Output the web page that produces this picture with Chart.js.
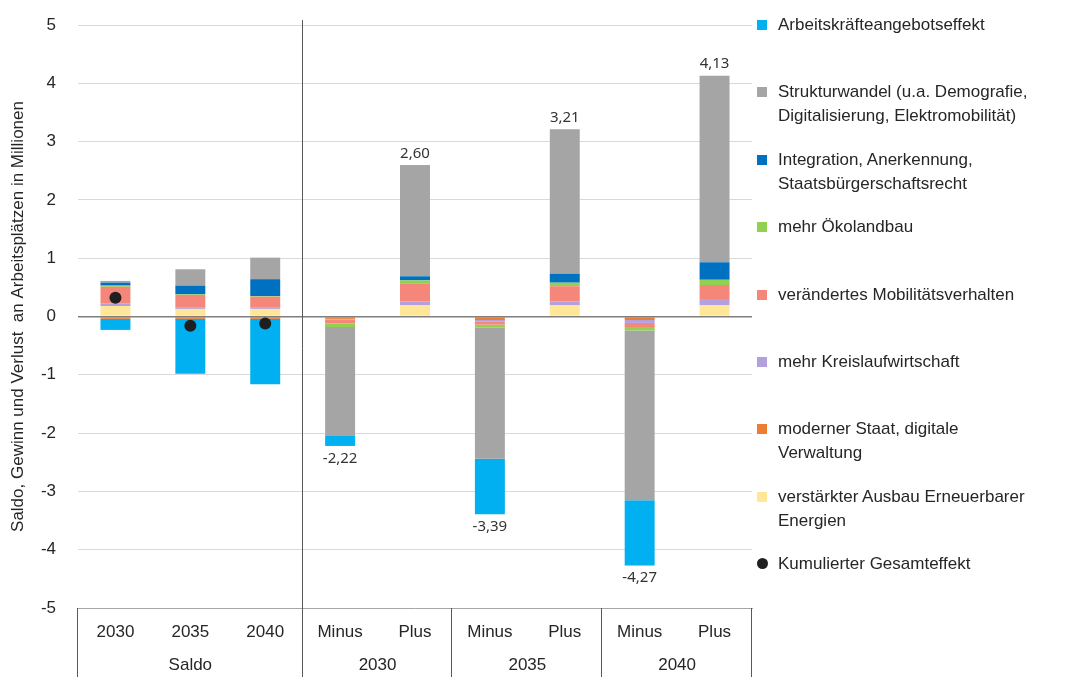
<!DOCTYPE html>
<html>
<head>
<meta charset="utf-8">
<script src="https://cdn.jsdelivr.net/npm/chart.js@4.4.1/dist/chart.umd.min.js"></script>
<style>
  body { margin: 0; background: #fff; }
  #wrap { position: relative; width: 1087px; height: 677px; }
  #legend { position: absolute; left: 757px; top: 13px; font: 17px "Liberation Sans", Arial, sans-serif; color: #262626; }
  .item { position: relative; padding-left: 21px; line-height: 24px; height: 67.4px; }
  .item .box { position: absolute; left: 0; top: 7px; width: 10px; height: 10px; }
  .item .dot { border-radius: 50%; width: 11px; height: 11px; top: 6px; }
</style>
</head>
<body>
<div id="wrap">
  <canvas id="chart" width="1087" height="677"></canvas>
  <div id="legend"></div>
</div>
<script>
// categories (first row) and groups (second row)
var categories = ['2030', '2035', '2040', 'Minus', 'Plus', 'Minus', 'Plus', 'Minus', 'Plus'];
var groupNames = ['Saldo', '2030', '2035', '2040'];
var groupSizes = [3, 2, 2, 2];

// series values in Millionen
var ausbauEE       = [0.18, 0.13, 0.13, null, 0.19, null, 0.19, null, 0.19];
var modernerStaat  = [-0.04, -0.04, -0.04, -0.04, null, -0.06, null, -0.06, null];
var kreislauf      = [0.04, 0.02, 0.02, -0.01, 0.07, -0.03, 0.07, -0.05, 0.11];
var mobilitaet     = [0.29, 0.22, 0.19, -0.07, 0.30, -0.05, 0.26, -0.07, 0.24];
var oekolandbau    = [0.02, 0.01, 0.01, -0.06, 0.06, -0.05, 0.06, -0.06, 0.09];
var integration    = [0.05, 0.15, 0.29, null, 0.07, null, 0.15, null, 0.30];
var strukturwandel = [0.03, 0.28, 0.37, -1.87, 1.91, -2.25, 2.48, -2.91, 3.20];
var arbeitskraefte = [-0.19, -0.94, -1.12, -0.17, null, -0.95, null, -1.12, null];
var gesamteffekt   = [0.32, -0.16, -0.12, null, null, null, null, null, null];

// value labels over the Minus / Plus bars
var totalLabels = [null, null, null, -2.22, 2.60, -3.39, 3.21, -4.27, 4.13];

var yTicks = [-5, -4, -3, -2, -1, 0, 1, 2, 3, 4, 5];

var FONT = '"Liberation Sans", Arial, sans-serif';
Chart.defaults.font.family = FONT;
Chart.defaults.font.size = 17;
Chart.defaults.color = '#262626';

function bar(label, data, color) {
  return { type: 'bar', label: label, data: data, backgroundColor: color, borderWidth: 0,
           barPercentage: 0.4, categoryPercentage: 1 };
}

var datasets = [
  bar('verstärkter Ausbau Erneuerbarer Energien', ausbauEE, '#ffe699'),
  bar('moderner Staat, digitale Verwaltung', modernerStaat, '#ed7d31'),
  bar('mehr Kreislaufwirtschaft', kreislauf, '#b4a0dc'),
  bar('verändertes Mobilitätsverhalten', mobilitaet, '#f4877a'),
  bar('mehr Ökolandbau', oekolandbau, '#92d050'),
  bar('Integration, Anerkennung, Staatsbürgerschaftsrecht', integration, '#0070c0'),
  bar('Strukturwandel (u.a. Demografie, Digitalisierung, Elektromobilität)', strukturwandel, '#a5a5a5'),
  bar('Arbeitskräfteangebotseffekt', arbeitskraefte, '#00b0f0'),
  { type: 'line', label: 'Kumulierter Gesamteffekt', data: gesamteffekt, showLine: false,
    pointRadius: 6, pointBackgroundColor: '#1f1f1f', pointBorderWidth: 0, order: -1 }
];

// legend (top to bottom) with line breaks as in the original
var legendItems = [
  [7, ['Arbeitskräfteangebotseffekt']],
  [6, ['Strukturwandel (u.a. Demografie,', 'Digitalisierung, Elektromobilität)']],
  [5, ['Integration, Anerkennung,', 'Staatsbürgerschaftsrecht']],
  [4, ['mehr Ökolandbau']],
  [3, ['verändertes Mobilitätsverhalten']],
  [2, ['mehr Kreislaufwirtschaft']],
  [1, ['moderner Staat, digitale', 'Verwaltung']],
  [0, ['verstärkter Ausbau Erneuerbarer', 'Energien']],
  [8, ['Kumulierter Gesamteffekt']]
];
var legendEl = document.getElementById('legend');
legendItems.forEach(function (it) {
  var ds = datasets[it[0]];
  var div = document.createElement('div');
  div.className = 'item';
  var box = document.createElement('span');
  box.className = ds.type === 'line' ? 'box dot' : 'box';
  box.style.background = ds.type === 'line' ? ds.pointBackgroundColor : ds.backgroundColor;
  div.appendChild(box);
  it[1].forEach(function (line, i) {
    if (i) div.appendChild(document.createElement('br'));
    div.appendChild(document.createTextNode(line));
  });
  legendEl.appendChild(div);
});

function fmt(v) { return v.toFixed(2).replace('.', ','); }

var decorations = {
  id: 'decorations',
  afterDatasetsDraw: function (chart) {
    var ctx = chart.ctx, x = chart.scales.x, y = chart.scales.y, area = chart.chartArea;
    var step = x.getPixelForValue(1) - x.getPixelForValue(0);
    var H = chart.height;
    ctx.save();
    // value labels
    ctx.font = '15px "Noto Sans", sans-serif';
    ctx.fillStyle = '#333';
    ctx.textAlign = 'center';
    totalLabels.forEach(function (v, i) {
      if (v === null) return;
      var px = x.getPixelForValue(i), py = y.getPixelForValue(v);
      ctx.textBaseline = v > 0 ? 'bottom' : 'top';
      ctx.fillText(fmt(v), px, v > 0 ? py - 4 : py + 5);
    });
    // separators and group labels
    ctx.strokeStyle = '#595959';
    ctx.lineWidth = 1;
    var start = 0;
    ctx.font = '17px ' + FONT;
    ctx.fillStyle = '#262626';
    ctx.textBaseline = 'middle';
    var edges = [0];
    groupSizes.forEach(function (n, g) {
      var left = x.getPixelForValue(start) - step / 2;
      var right = x.getPixelForValue(start + n - 1) + step / 2;
      ctx.fillText(groupNames[g], (left + right) / 2, area.bottom + 57);
      start += n;
      edges.push(start);
    });
    edges.forEach(function (e, k) {
      var ex = Math.round(x.getPixelForValue(e) - step / 2) - 0.5;
      var top = k === 1 ? area.top - 5 : area.bottom;
      ctx.beginPath();
      ctx.moveTo(ex, top);
      ctx.lineTo(ex, H);
      ctx.stroke();
    });
    ctx.restore();
  }
};

new Chart(document.getElementById('chart'), {
  data: { labels: categories, datasets: datasets },
  options: {
    responsive: false,
    animation: false,
    layout: { padding: { top: 25, right: 335, bottom: 0, left: 0 } },
    plugins: { legend: { display: false }, tooltip: { enabled: false } },
    scales: {
      x: {
        stacked: true,
        grid: { display: false, drawTicks: false },
        border: { display: true, color: '#a6a6a6' },
        ticks: { padding: 14, maxRotation: 0, autoSkip: false },
        afterFit: function (s) { s.height = 69; s.paddingLeft = 0; s.paddingRight = 0; }
      },
      y: {
        stacked: true,
        min: yTicks[0],
        max: yTicks[yTicks.length - 1],
        afterBuildTicks: function (s) { s.ticks = yTicks.map(function (v) { return { value: v }; }); },
        grid: {
          drawTicks: false,
          color: function (c) { return c.tick && c.tick.value === 0 ? '#7f7f7f' : '#d9d9d9'; },
          lineWidth: function (c) { return c.tick && c.tick.value === 0 ? 1.5 : 1; }
        },
        border: { display: false },
        ticks: { padding: 22 },
        title: {
          display: true,
          text: 'Saldo, Gewinn und Verlust  an Arbeitsplätzen in Millionen',
          font: { size: 17 },
          padding: { top: 8, bottom: 0 }
        },
        afterFit: function (s) { s.width = 78; s.paddingTop = 0; s.paddingBottom = 0; }
      }
    }
  },
  plugins: [decorations]
});
</script>
</body>
</html>
